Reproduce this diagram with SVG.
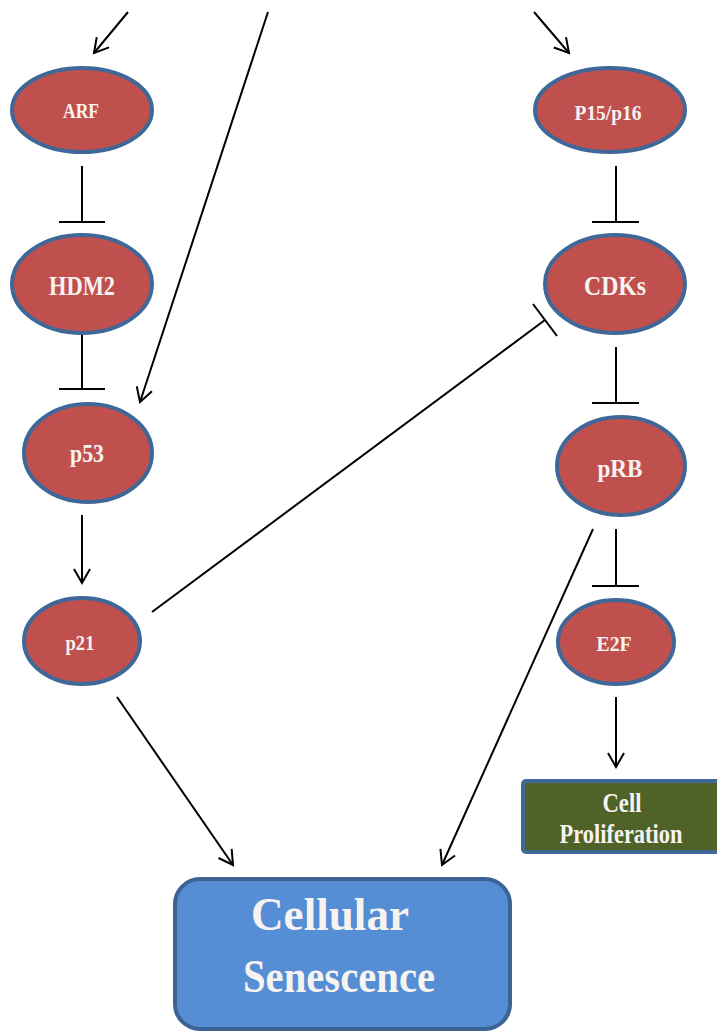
<svg xmlns="http://www.w3.org/2000/svg" width="717" height="1032" viewBox="0 0 717 1032">
<style>
.node ellipse{fill:#c0504d;stroke:#3f6898;stroke-width:4}
.lbl{font-family:"Liberation Serif","Times New Roman",serif;font-weight:bold;fill:#f6f3f0;text-anchor:middle}
.conn line{stroke:#000;stroke-width:2;fill:none}
.arr{marker-end:url(#ah)}
</style>
<defs>
<marker id="ah" markerUnits="userSpaceOnUse" markerWidth="20" markerHeight="20" refX="15" refY="9" orient="auto">
<path d="M1,1 L15,9 L1,17" fill="none" stroke="#000" stroke-width="2"/>
</marker>
</defs>
<rect width="717" height="1032" fill="#fff"/>
<g id="connectors" class="conn">
<line class="arr" x1="128" y1="12" x2="94" y2="53"/>
<line class="arr" x1="268" y1="12" x2="140" y2="402"/>
<line class="arr" x1="534" y1="12" x2="569" y2="53"/>
<line x1="82" y1="166" x2="82" y2="222"/><line x1="59" y1="222" x2="105" y2="222"/>
<line x1="616" y1="166" x2="616" y2="222"/><line x1="592" y1="222" x2="639" y2="222"/>
<line x1="82" y1="334" x2="82" y2="389"/><line x1="59" y1="389" x2="105" y2="389"/>
<line x1="616" y1="347" x2="616" y2="403"/><line x1="592" y1="403" x2="639" y2="403"/>
<line x1="616" y1="529" x2="616" y2="586"/><line x1="592" y1="586" x2="639" y2="586"/>
<line class="arr" x1="82" y1="515" x2="82" y2="583"/>
<line class="arr" x1="616" y1="697" x2="616" y2="767"/>
<line x1="152" y1="612" x2="545" y2="320"/><line x1="533" y1="304" x2="557" y2="336"/>
<line class="arr" x1="593" y1="529" x2="442" y2="865"/>
<line class="arr" x1="117" y1="697" x2="233" y2="865"/>
</g>
<g id="ARF" class="node"><ellipse cx="82" cy="110" rx="70" ry="42"/><text class="lbl" x="81" y="118" font-size="22" textLength="36" lengthAdjust="spacingAndGlyphs">ARF</text></g>
<g id="P15p16" class="node"><ellipse cx="610" cy="110" rx="75" ry="42"/><text class="lbl" x="608" y="120" font-size="22" textLength="67" lengthAdjust="spacingAndGlyphs">P15/p16</text></g>
<g id="HDM2" class="node"><ellipse cx="82" cy="284" rx="70" ry="49"/><text class="lbl" x="82" y="295" font-size="28" textLength="66" lengthAdjust="spacingAndGlyphs">HDM2</text></g>
<g id="CDKs" class="node"><ellipse cx="615" cy="284" rx="70" ry="49"/><text class="lbl" x="615" y="295" font-size="28" textLength="62" lengthAdjust="spacingAndGlyphs">CDKs</text></g>
<g id="p53" class="node"><ellipse cx="88" cy="453" rx="64" ry="49"/><text class="lbl" x="87" y="462" font-size="25" textLength="34" lengthAdjust="spacingAndGlyphs">p53</text></g>
<g id="pRB" class="node"><ellipse cx="621" cy="466" rx="64" ry="49"/><text class="lbl" x="620" y="477" font-size="25" textLength="45" lengthAdjust="spacingAndGlyphs">pRB</text></g>
<g id="p21" class="node"><ellipse cx="82" cy="641" rx="58" ry="43"/><text class="lbl" x="80" y="650" font-size="20" textLength="29" lengthAdjust="spacingAndGlyphs">p21</text></g>
<g id="E2F" class="node"><ellipse cx="616" cy="642" rx="58" ry="42"/><text class="lbl" x="614" y="651" font-size="22" textLength="35" lengthAdjust="spacingAndGlyphs">E2F</text></g>
<g id="CellProliferation"><rect x="523" y="781" width="200" height="71" rx="3" fill="#4f6228" stroke="#3f6898" stroke-width="4"/>
<text class="lbl" x="622" y="812" font-size="28" textLength="39" lengthAdjust="spacingAndGlyphs">Cell</text>
<text class="lbl" x="621" y="843" font-size="28" textLength="123" lengthAdjust="spacingAndGlyphs">Proliferation</text></g>
<g id="CellularSenescence"><rect x="175" y="879" width="335" height="150" rx="25" fill="#558ed5" stroke="#3b6393" stroke-width="4"/>
<text class="lbl" x="330" y="930" font-size="46" textLength="158" lengthAdjust="spacingAndGlyphs">Cellular</text>
<text class="lbl" x="339" y="992" font-size="46" textLength="192" lengthAdjust="spacingAndGlyphs">Senescence</text></g>
</svg>
